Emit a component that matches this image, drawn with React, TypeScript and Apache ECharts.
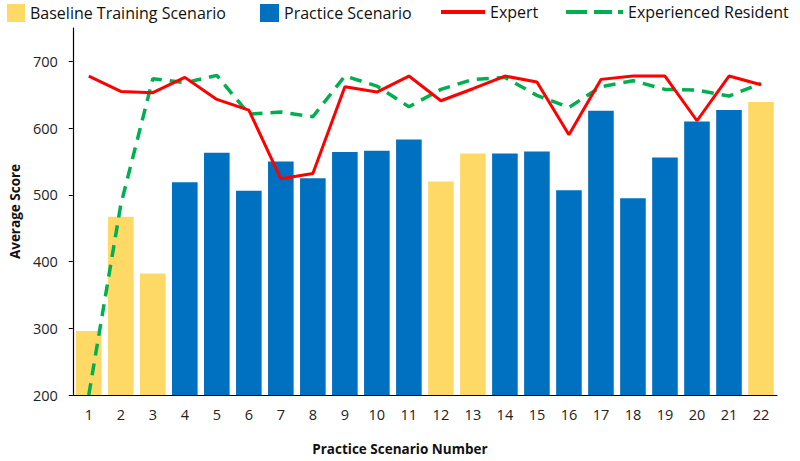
import React, { useEffect, useRef } from "react";
import * as echarts from "echarts";

const categories = ["1","2","3","4","5","6","7","8","9","10","11","12","13","14","15","16","17","18","19","20","21","22"];
const baselineScores = [296, 467, 382, "-", "-", "-", "-", "-", "-", "-", "-", 520, 562, "-", "-", "-", "-", "-", "-", "-", "-", 639];
const practiceScores = ["-", "-", "-", 519, 563, 506, 550, 525, 564, 566, 583, "-", "-", 562, 565, 507, 626, 495, 556, 610, 627, "-"];
const expertScores = [678, 655, 653, 676, 643, 627, 524, 532, 662, 654, 678, 641, 659, 678, 669, 590, 673, 678, 678, 611, 678, 665];
const residentScores = [200, 485, 674, 668, 679, 621, 624, 617, 678, 663, 632, 658, 673, 676, 649, 631, 662, 671, 658, 657, 648, 667];

const FONT = "Open Sans";
const DASH_ICON = "path://M0,0h21v4h-21z M28,0h18v4h-18z M52,0h5v4h-5z";

export default function App() {
  const ref = useRef<HTMLDivElement>(null);
  useEffect(() => {
    const chart = echarts.init(ref.current!, undefined, { renderer: "svg" });
    const legendText = { fontFamily: FONT, fontSize: 16, color: "#111" };
    const lg = { top: 4, padding: 0, textStyle: legendText };
    chart.setOption({
      animation: false,
      textStyle: { fontFamily: FONT },
      legend: [
        { ...lg, left: 7, itemWidth: 18, itemHeight: 18, itemGap: 6, data: [{ name: "Baseline Training Scenario", icon: "rect" }] },
        { ...lg, left: 260, itemWidth: 19, itemHeight: 18, itemGap: 6, data: [{ name: "Practice Scenario", icon: "rect" }] },
        { ...lg, left: 441, itemWidth: 44, itemHeight: 4, itemGap: 6, data: [{ name: "Expert", icon: "rect" }] },
        { ...lg, left: 566, itemWidth: 57, itemHeight: 4, itemGap: 6, data: [{ name: "Experienced Resident", icon: DASH_ICON }] },
      ],
      grid: { left: 67, right: 23, top: 28, bottom: 62, containLabel: false },
      xAxis: {
        type: "category",
        data: categories,
        axisLine: { lineStyle: { color: "#000", width: 1.2 } },
        axisTick: { show: false },
        axisLabel: { fontFamily: FONT, fontSize: 14.5, color: "#222", margin: 12 },
        name: "Practice Scenario Number",
        nameLocation: "middle",
        nameGap: 47,
        nameTextStyle: { fontFamily: FONT, fontSize: 13.5, fontWeight: "bold", color: "#111", padding: [0, 50, 0, 0] },
      },
      yAxis: {
        type: "value",
        min: 200,
        max: 750,
        interval: 100,
        splitLine: { show: false },
        axisLine: { show: true, lineStyle: { color: "#000", width: 1.2 } },
        axisTick: { show: true, length: 4, lineStyle: { color: "#000" } },
        axisLabel: { fontFamily: FONT, fontSize: 14.5, color: "#222", margin: 15, showMaxLabel: false },
        name: "Average Score",
        nameLocation: "middle",
        nameGap: 50,
        nameTextStyle: { fontFamily: FONT, fontSize: 13.5, fontWeight: "bold", color: "#111" },
      },
      series: [
        {
          name: "Baseline Training Scenario",
          type: "bar",
          stack: "s",
          data: baselineScores,
          barCategoryGap: "20%",
          itemStyle: { color: "#FFD966" },
        },
        {
          name: "Practice Scenario",
          type: "bar",
          stack: "s",
          data: practiceScores,
          barCategoryGap: "20%",
          itemStyle: { color: "#0070C0" },
        },
        {
          name: "Expert",
          type: "line",
          data: expertScores,
          symbol: "none",
          lineStyle: { color: "#FF0000", width: 3 },
          itemStyle: { color: "#FF0000" },
          z: 5,
        },
        {
          name: "Experienced Resident",
          type: "line",
          data: residentScores,
          symbol: "none",
          lineStyle: { color: "#00B050", width: 3.5, type: [12, 8] },
          itemStyle: { color: "#00B050" },
          z: 4,
        },
      ],
    });
    return () => chart.dispose();
  }, []);
  return <div ref={ref} style={{ width: 800, height: 461, position: "absolute", left: 0, top: 0 }} />;
}
